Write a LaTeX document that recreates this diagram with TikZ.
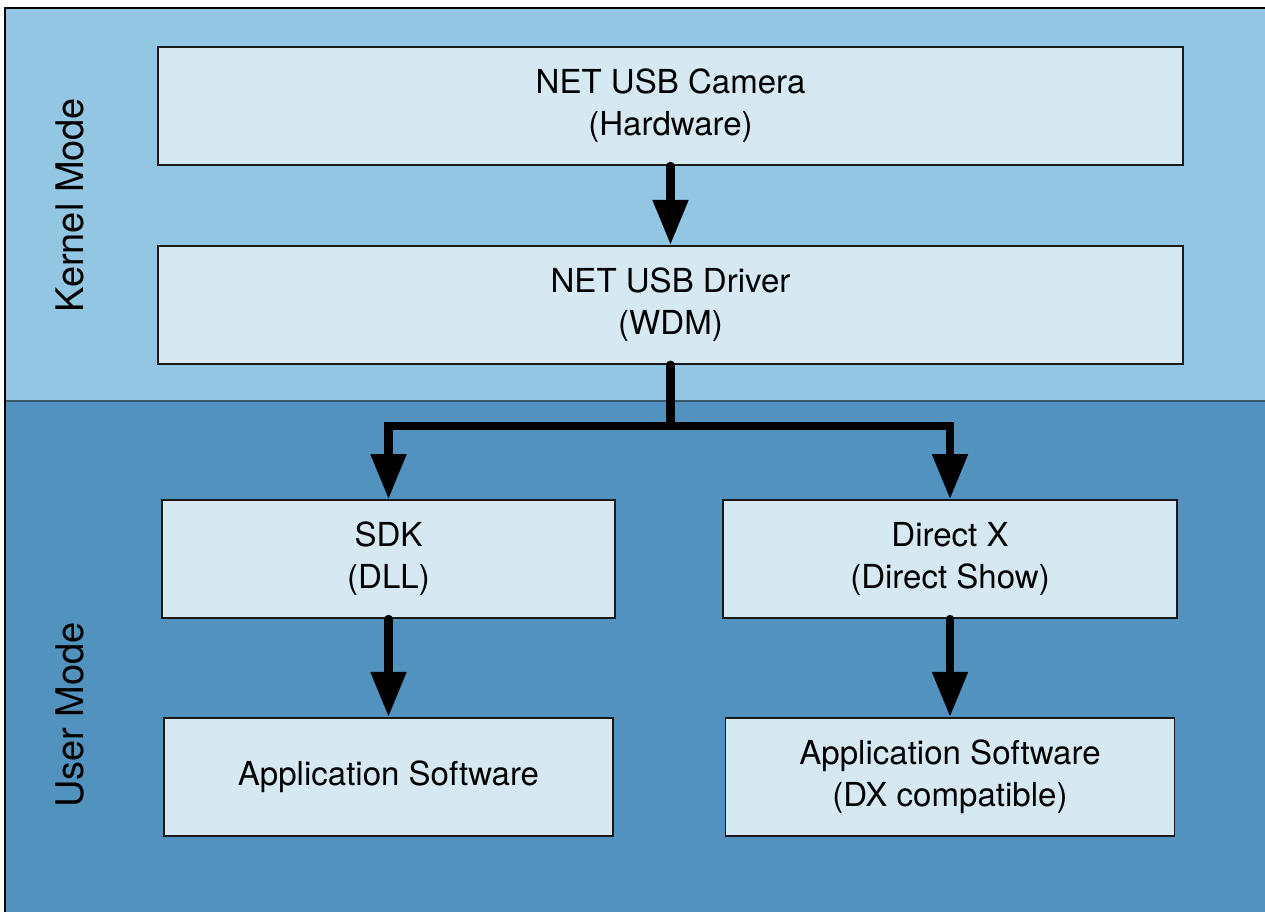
\documentclass[tikz,border=0pt]{standalone}
\usepackage{fontspec}
\setmainfont{TeX Gyre Heros}
\usetikzlibrary{arrows.meta, positioning}

\definecolor{kernelblue}{HTML}{92C6E2}
\definecolor{userblue}{HTML}{5292BF}
\definecolor{boxfill}{HTML}{D6E9F3}
\definecolor{bandline}{HTML}{34596D}

\begin{document}
\begin{tikzpicture}[node distance=0cm]

\tikzstyle{layer}=[rectangle,draw=black!90,line width=0.5pt,fill=boxfill,minimum height=1.18cm,align=center,inner sep=0pt,font=\fontsize{9.4}{12}\selectfont];
\tikzstyle{flow}=[line width=2.3pt,line cap=round,-{Triangle[width=0.34cm,length=0.45cm]}];
\tikzstyle{mode}=[rotate=90,font=\fontsize{10.8}{13}\selectfont];

\useasboundingbox (0,0) rectangle (12.65,9.11);

% kernel / user bands
\fill[kernelblue] (0.05,5.10) rectangle (12.75,9.03);
\fill[userblue] (0.05,-0.05) rectangle (12.75,5.10);
\draw[bandline,line width=0.5pt] (0.05,5.10) -- (12.75,5.10);
\draw[line width=0.6pt] (12.75,9.03) -- (0.05,9.03) -- (0.05,-0.05);

\node(KERNEL) [mode] at (0.70,7.06) {Kernel Mode};
\node(USER) [mode] at (0.70,1.96) {User Mode};

\node(CAMERA) [layer, minimum width=10.25cm] at (6.705,8.05) {NET USB Camera\\(Hardware)};
\node(DRIVER) [layer, minimum width=10.25cm, below=0.79cm of CAMERA] {NET USB Driver\\(WDM)};
\node(SDK) [layer, minimum width=4.53cm] at (3.885,3.52) {SDK\\(DLL)};
\node(DIRECTX) [layer, minimum width=4.54cm] at (9.50,3.52) {Direct X\\(Direct Show)};
\node(APPSW) [layer, minimum width=4.49cm, below=0.98cm of SDK] {Application Software};
\node(APPDX) [layer, minimum width=4.49cm, below=0.98cm of DIRECTX] {Application Software\\(DX compatible)};

\coordinate[below=0.61cm of DRIVER.south] (SPLIT);

\draw[flow] (CAMERA) -- (DRIVER);
\draw[flow] (DRIVER.south) -- (SPLIT) -| (SDK.north);
\draw[flow] (SPLIT) -| (DIRECTX.north);
\draw[flow] (SDK) -- (APPSW);
\draw[flow] (DIRECTX) -- (APPDX);

\end{tikzpicture}
\end{document}
